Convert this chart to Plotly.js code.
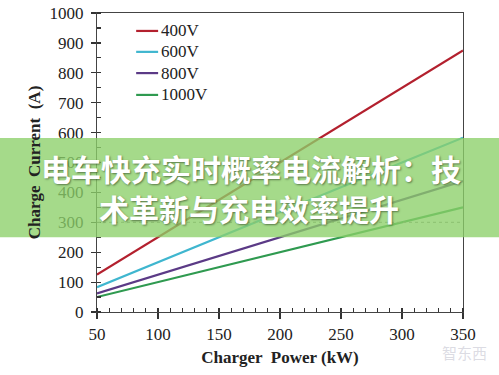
<!DOCTYPE html>
<html><head><meta charset="utf-8">
<script src="https://cdn.plot.ly/plotly-3.0.1.min.js"></script>
<style>html,body{margin:0;padding:0;background:#fff;}#c{width:499px;height:375px;}</style>
</head><body><div id="c"></div>
<script>
var power = [50, 100, 150, 200, 250, 300, 350];
var seriesNames = ['400V', '600V', '800V', '1000V'];
var current400 = [125, 250, 375, 500, 625, 750, 875];
var current600 = [83, 167, 250, 333, 417, 500, 583];
var current800 = [62, 125, 188, 250, 312, 375, 438];
var current1000 = [50, 100, 150, 200, 250, 300, 350];
var colors = ['#b3202e', '#3fb6cf', '#5b3a86', '#2f9a50'];
var refLine = [300];
var xTicks = [50, 100, 150, 200, 250, 300, 350];
var yTicks = [0, 100, 200, 300, 400, 500, 600, 700, 800, 900, 1000];
var titleText = ['电车快充实时概率电流解析：技', '术革新与充电效率提升'];

var series = [current400, current600, current800, current1000];
var traces = series.map(function(s, i){
  return {x: power, y: s, name: seriesNames[i], mode: 'lines', type: 'scatter',
          line: {color: colors[i], width: 2.2}, showlegend: false};
});

var serif = 'Liberation Serif, Times New Roman, serif';

// legend drawn as short lines + labels (positions in paper fractions)
var legY = [0.94, 0.87, 0.799, 0.726];
var shapes = [
  {type: 'line', xref: 'paper', x0: 0, x1: 1, yref: 'y', y0: refLine[0], y1: refLine[0],
   line: {color: '#888', width: 1, dash: 'dot'}}
];
var annotations = [];
seriesNames.forEach(function(n, i){
  shapes.push({type: 'line', xref: 'paper', yref: 'paper', x0: 0.107, x1: 0.167, y0: legY[i], y1: legY[i],
               line: {color: colors[i], width: 2.2}});
  annotations.push({xref: 'paper', yref: 'paper', x: 0.169, y: legY[i], text: n, showarrow: false,
                    xanchor: 'left', yanchor: 'middle', font: {family: serif, size: 17, color: '#222'}});
});
shapes.push({type: 'rect', xref: 'paper', yref: 'paper', x0: -0.3, x1: 1.2, y0: 0.25, y1: 0.582,
             fillcolor: 'rgba(140,208,105,0.78)', line: {width: 0}, layer: 'above'});
annotations.push(
  {xref: 'paper', yref: 'paper', x: 0.422, y: 0.48, text: '<b>' + titleText[0] + '</b>', showarrow: false,
   font: {family: 'Noto Sans CJK SC', size: 30, color: '#fff', shadow: '1px 1px 2px rgba(40,60,30,0.6)'},
   xanchor: 'center', yanchor: 'middle'},
  {xref: 'paper', yref: 'paper', x: 0.414, y: 0.347, text: '<b>' + titleText[1] + '</b>', showarrow: false,
   font: {family: 'Noto Sans CJK SC', size: 30, color: '#fff', shadow: '1px 1px 2px rgba(40,60,30,0.6)'},
   xanchor: 'center', yanchor: 'middle'},
  {xref: 'paper', yref: 'paper', x: 1.07, y: -0.135, text: '智东西', showarrow: false,
   font: {family: 'Noto Sans CJK SC', size: 15, color: 'rgba(205,205,215,0.7)'}, xanchor: 'right', yanchor: 'middle'}
);

var layout = {
  width: 499, height: 375,
  margin: {l: 97, r: 36, t: 13, b: 63},
  paper_bgcolor: '#fff', plot_bgcolor: '#fff',
  showlegend: false,
  xaxis: {range: [50, 350], tickvals: xTicks, ticks: 'outside', ticklen: 6, tickwidth: 1.2,
          tickcolor: '#333', showline: true, linecolor: '#444', linewidth: 1.2, mirror: true,
          showgrid: false, zeroline: false,
          minor: {dtick: 10, ticks: 'inside', ticklen: 4, tickcolor: '#333', showgrid: false},
          tickfont: {family: serif, size: 17, color: '#222'},
          title: {text: '<b>Charger  Power (kW)</b>', font: {family: serif, size: 17, color: '#222'}, standoff: 8}},
  yaxis: {range: [0, 1000], tickvals: yTicks, ticks: 'outside', ticklen: 5, tickwidth: 1.2,
          tickcolor: '#333', showline: true, linecolor: '#444', linewidth: 1.2, mirror: true,
          showgrid: false, zeroline: false, ticklabelstandoff: 4,
          minor: {dtick: 50, ticks: 'inside', ticklen: 4, tickcolor: '#333', showgrid: false},
          tickfont: {family: serif, size: 17, color: '#222'},
          title: {text: '<b>Charge  Current  (A)</b>', font: {family: serif, size: 17, color: '#222'}, standoff: 4}},
  shapes: shapes,
  annotations: annotations
};
Plotly.newPlot('c', traces, layout, {displayModeBar: false, staticPlot: true});
</script></body></html>
